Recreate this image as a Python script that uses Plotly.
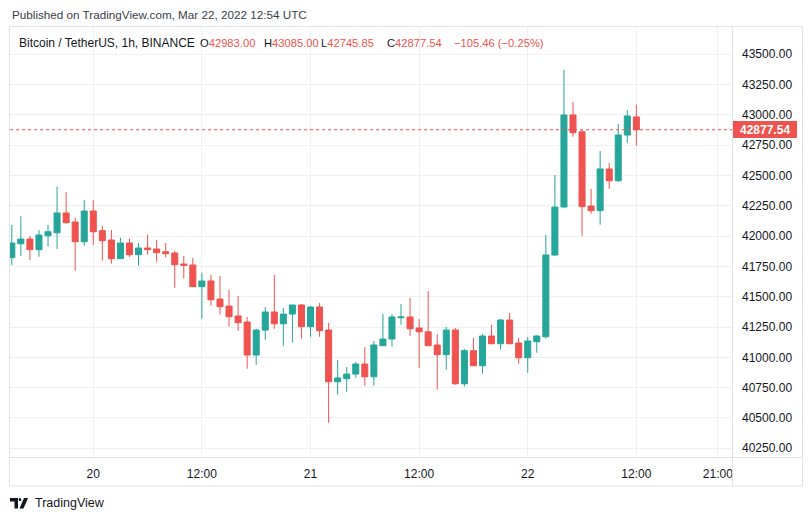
import plotly.graph_objects as go
import pandas as pd

# ---------------- data ----------------
times = pd.date_range("2022-03-19 15:00", periods=70, freq="h")

opens = [41822, 41937, 41976, 41888, 42003, 42028, 42191, 42116, 41954, 42207,
         42045, 41968, 41814, 41943, 41847, 41902, 41894, 41871, 41861, 41770,
         41762, 41583, 41630, 41481, 41423, 41341, 41291, 41019, 41225, 41374,
         41277, 41357, 41432, 41253, 41415, 41225, 40799, 40824, 40862, 40945,
         40840, 41096, 41151, 41327, 41333, 41242, 41211, 41102, 41022, 41225,
         40782, 41055, 40931, 41176, 41112, 41308, 41118, 40997, 41129, 41170,
         41844, 42240, 42999, 42861, 42248, 42210, 42554, 42457, 42834, 42983.00]
highs = [42092, 42166, 42001, 42050, 42092, 42408, 42364, 42152, 42298, 42298,
         42086, 42050, 41987, 41979, 41943, 42012, 41968, 41943, 41880, 41836,
         41819, 41698, 41679, 41671, 41555, 41506, 41333, 41236, 41415, 41679,
         41407, 41432, 41440, 41423, 41448, 41283, 40978, 40920, 40961, 41085,
         41135, 41357, 41357, 41440, 41490, 41316, 41547, 41192, 41250, 41242,
         41071, 41160, 41192, 41267, 41316, 41366, 41160, 41168, 41184, 42009,
         42504, 43370, 43106, 42875, 42389, 42702, 42603, 42925, 43040, 43085.00]
lows = [41762, 41836, 41803, 41830, 41913, 41894, 42102, 41715, 41921, 41929,
        41797, 41772, 41814, 41828, 41756, 41847, 41789, 41822, 41574, 41649,
        41583, 41319, 41426, 41352, 41253, 41220, 40906, 40939, 41145, 41236,
        41096, 41121, 41154, 41170, 41170, 40461, 40692, 40716, 40832, 40766,
        40766, 41096, 41088, 41269, 41178, 40914, 41096, 40733, 40898, 40774,
        40758, 40931, 40865, 41112, 41063, 41112, 40947, 40873, 41038, 41154,
        41838, 42235, 42820, 42003, 42185, 42094, 42391, 42449, 42771, 42745.85]
closes = [41943, 41976, 41888, 42009, 42036, 42191, 42111, 41954, 42207, 42036,
          41962, 41814, 41943, 41847, 41902, 41888, 41863, 41855, 41764, 41759,
          41583, 41630, 41475, 41418, 41335, 41286, 41019, 41225, 41374, 41277,
          41357, 41432, 41253, 41415, 41220, 40799, 40830, 40862, 40945, 40840,
          41102, 41151, 41333, 41333, 41236, 41211, 41096, 41022, 41225, 40782,
          41055, 40931, 41176, 41112, 41308, 41112, 40997, 41135, 41176, 41844,
          42240, 42999, 42853, 42243, 42210, 42554, 42457, 42834, 42991, 42877.54]

tick_times = ["2022-03-20 00:00", "2022-03-20 12:00", "2022-03-21 00:00",
              "2022-03-21 12:00", "2022-03-22 00:00", "2022-03-22 12:00",
              "2022-03-22 21:00"]
tick_labels = ["20", "12:00", "21", "12:00", "22", "12:00", "21:00"]

title_text = "Bitcoin / TetherUS, 1h, BINANCE"
published_text = "Published on TradingView.com, Mar 22, 2022 12:54 UTC"
change_text = "\u2212105.46 (\u22120.25%)"

# ---------------- styling / geometry ----------------
UP = "#26a69a"
DOWN = "#ef5350"
TXT = "#131722"
GRID = "#eef0f3"
BORDER = "#e0e3eb"
FONT = "Liberation Sans"

W_PX, H_PX = 812, 521
PL, PR, PT, PB = 10, 732, 27, 457


def px(x):
    return (x - PL) / (PR - PL)


def py(y):
    return (PB - y) / (PB - PT)


fig = go.Figure()
fig.add_trace(go.Candlestick(
    x=times, open=opens, high=highs, low=lows, close=closes,
    increasing=dict(line=dict(color=UP, width=1), fillcolor=UP),
    decreasing=dict(line=dict(color=DOWN, width=1), fillcolor=DOWN),
    whiskerwidth=0, hoverinfo="skip", showlegend=False,
))

last_close = closes[-1]

shapes = [
    # dotted last-price line
    dict(type="line", xref="paper", yref="y", x0=0, x1=1, y0=last_close, y1=last_close,
         line=dict(color=DOWN, width=1, dash="dot")),
    # frame
    dict(type="rect", xref="paper", yref="paper", x0=px(9.5), x1=px(802.5), y0=py(26.5), y1=py(486),
         line=dict(color=BORDER, width=1), layer="above"),
    dict(type="line", xref="paper", yref="paper", x0=px(732.5), x1=px(732.5), y0=py(26.5), y1=py(486),
         line=dict(color=BORDER, width=1)),
    dict(type="line", xref="paper", yref="paper", x0=px(9.5), x1=px(802.5), y0=py(457.5), y1=py(457.5),
         line=dict(color=BORDER, width=1)),
    # last price label box
    dict(type="rect", xref="paper", yref="paper", x0=px(733), x1=px(797), y0=py(121), y1=py(138),
         fillcolor=DOWN, line=dict(width=0), layer="above"),
    # TradingView logo
    dict(type="path", xref="paper", yref="paper",
         path=f"M {px(10)} {py(498)} L {px(18)} {py(498)} L {px(18)} {py(508.5)} L {px(14.5)} {py(508.5)} "
              f"L {px(14.5)} {py(501.5)} L {px(10)} {py(501.5)} Z",
         fillcolor=TXT, line=dict(width=0)),
    dict(type="circle", xref="paper", yref="paper", x0=px(18.6), x1=px(21.4), y0=py(498), y1=py(501),
         fillcolor=TXT, line=dict(width=0)),
    dict(type="path", xref="paper", yref="paper",
         path=f"M {px(24)} {py(498)} L {px(28)} {py(498)} L {px(23.5)} {py(508.5)} L {px(19.5)} {py(508.5)} Z",
         fillcolor=TXT, line=dict(width=0)),
]

ann = []


def add_text(x, y, text, size=12, color=TXT, anchor="left"):
    ann.append(dict(x=px(x), y=py(y), xref="paper", yref="paper", text=text,
                    showarrow=False, xanchor=anchor, yanchor="middle",
                    font=dict(family=FONT, size=size, color=color)))


def red(s):
    return f"<span style='color:{DOWN}'>{s}</span>"


add_text(10, 14, published_text, size=11.7, color="#3a3e48")
add_text(17, 43, title_text, size=12)
add_text(198, 43, "O" + red(f"{opens[-1]:.2f}"), size=11.2)
add_text(262, 43, "H" + red(f"{highs[-1]:.2f}"), size=11.2)
add_text(319, 43, "L" + red(f"{lows[-1]:.2f}"), size=11.2)
add_text(385, 43, "C" + red(f"{last_close:.2f}"), size=11.2)
add_text(452, 43, red(change_text), size=11.2)
add_text(33, 503, "TradingView", size=12.5)
ann.append(dict(x=px(765), y=last_close, xref="paper", yref="y", text=f"<b>{last_close:.2f}</b>",
                showarrow=False, xanchor="center", yanchor="middle",
                font=dict(family=FONT, size=12, color="white")))

fig.update_layout(
    width=W_PX, height=H_PX,
    margin=dict(l=PL, r=W_PX - PR, t=PT, b=H_PX - PB, pad=0),
    paper_bgcolor="white", plot_bgcolor="white",
    font=dict(family=FONT, size=12, color=TXT),
    boxgap=0.05, boxgroupgap=0.3,
    shapes=shapes, annotations=ann,
    xaxis=dict(
        type="date",
        range=["2022-03-19 14:48", "2022-03-22 22:34"],
        tickvals=tick_times, ticktext=tick_labels,
        showgrid=True, gridcolor=GRID, gridwidth=1,
        zeroline=False, showline=False, ticks="",
        ticklabelstandoff=8,
        rangeslider=dict(visible=False),
        tickfont=dict(family=FONT, size=12, color=TXT),
    ),
    yaxis=dict(
        side="right",
        range=[40178, 43725],
        tick0=40250, dtick=250, tickformat=".2f",
        showgrid=True, gridcolor=GRID, gridwidth=1,
        zeroline=False, showline=False, ticks="",
        ticklabelstandoff=9,
        tickfont=dict(family=FONT, size=12, color=TXT),
    ),
)

fig.write_html("out.html")
